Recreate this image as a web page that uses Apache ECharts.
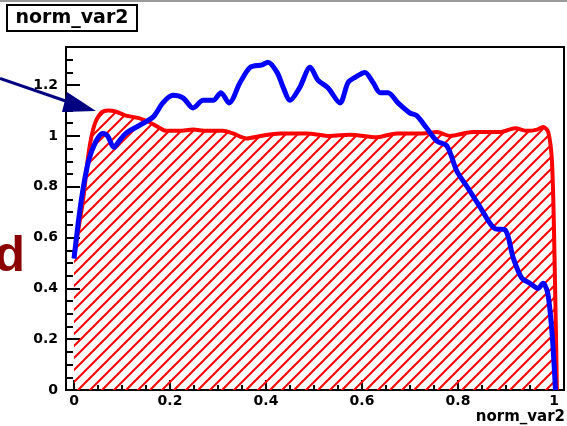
<!DOCTYPE html>
<html><head><meta charset="utf-8">
<script src="https://cdn.jsdelivr.net/npm/echarts@6/dist/echarts.min.js"></script>
<style>html,body{margin:0;padding:0;background:#fff}#c{width:567px;height:426px}</style>
</head><body><div id="c"></div>
<script>
// ---- data ----
const redX = [0, 0.008, 0.019, 0.031, 0.042, 0.056, 0.071, 0.088, 0.108, 0.135, 0.156, 0.175, 0.192, 0.219, 0.248, 0.275, 0.31, 0.331, 0.36, 0.388, 0.43, 0.485, 0.533, 0.575, 0.631, 0.673, 0.727, 0.756, 0.783, 0.831, 0.8875, 0.919, 0.944, 0.965, 0.977, 0.988, 0.996, 1.002, 1.006];
const redY = [0.52, 0.62, 0.75, 0.94, 1.04, 1.09, 1.10, 1.095, 1.08, 1.07, 1.055, 1.035, 1.02, 1.02, 1.025, 1.02, 1.02, 1.01, 0.99, 1.0, 1.01, 1.01, 1.0, 1.005, 0.995, 1.01, 1.01, 1.015, 1.0, 1.015, 1.015, 1.03, 1.02, 1.025, 1.035, 1.015, 0.89, 0.43, 0.0];
const blueX = [0, 0.015, 0.03, 0.046, 0.06, 0.07, 0.083, 0.094, 0.108, 0.135, 0.165, 0.185, 0.206, 0.227, 0.248, 0.269, 0.29, 0.306, 0.323, 0.346, 0.367, 0.392, 0.404, 0.423, 0.436, 0.45, 0.47, 0.492, 0.508, 0.529, 0.554, 0.571, 0.585, 0.606, 0.623, 0.638, 0.654, 0.675, 0.70, 0.714, 0.735, 0.756, 0.777, 0.798, 0.819, 0.846, 0.877, 0.898, 0.915, 0.933, 0.95, 0.967, 0.977, 0.987, 0.996, 1.003];
const blueY = [0.517, 0.745, 0.90, 0.98, 1.01, 1.0, 0.955, 0.98, 1.01, 1.04, 1.075, 1.13, 1.16, 1.15, 1.11, 1.14, 1.14, 1.17, 1.13, 1.21, 1.27, 1.28, 1.29, 1.25, 1.19, 1.14, 1.19, 1.27, 1.22, 1.19, 1.13, 1.21, 1.23, 1.25, 1.21, 1.17, 1.17, 1.13, 1.09, 1.08, 1.03, 0.98, 0.96, 0.86, 0.80, 0.72, 0.635, 0.63, 0.52, 0.44, 0.42, 0.40, 0.42, 0.38, 0.22, 0.0];
const xMajorTicks = [0, 0.2, 0.4, 0.6, 0.8, 1];
const xMinorTicks = [0.05, 0.1, 0.15, 0.25, 0.3, 0.35, 0.45, 0.5, 0.55, 0.65, 0.7, 0.75, 0.85, 0.9, 0.95];
const yMajorTicks = [0, 0.2, 0.4, 0.6, 0.8, 1, 1.2];
const yMinorTicks = [0.05, 0.1, 0.15, 0.25, 0.3, 0.35, 0.45, 0.5, 0.55, 0.65, 0.7, 0.75, 0.85, 0.9, 0.95, 1.05, 1.1, 1.15, 1.25, 1.3];
const titleText = 'norm_var2';
const xTitle = 'norm_var2';
const sideText = 'd';

// ---- drawing ----
const FONT = 'DejaVu Sans';
const S = 12;
const hatch = document.createElement('canvas');
hatch.width = S; hatch.height = S;
const g = hatch.getContext('2d');
g.strokeStyle = '#ff0000'; g.lineWidth = 2;
g.beginPath();
g.moveTo(0, S); g.lineTo(S, 0);
g.moveTo(-2, 2); g.lineTo(2, -2);
g.moveTo(S - 2, S + 2); g.lineTo(S + 2, S - 2);
g.stroke();

const XMIN = -0.0167, XMAX = 1.0208, YMIN = 0, YMAX = 1.35;
const gridBox = {left: 66, top: 47, right: 3, bottom: 36};
const tickStyle = {color: '#000', width: 2};
const plainGrid = () => Object.assign({show: false, containLabel: false, outerBoundsMode: 'none'}, gridBox);
// dummy axis whose range excludes 0, so the partner axis is never moved "on zero"
const dummyAxis = (gi) => ({type: 'value', gridIndex: gi, min: 1, max: 2, show: false});

const chart = echarts.init(document.getElementById('c'), null, {renderer: 'canvas'});
chart.setOption({
  animation: false,
  grid: [
    Object.assign({show: true, borderColor: '#000', borderWidth: 2, backgroundColor: 'transparent', containLabel: false, outerBoundsMode: 'none'}, gridBox),
    plainGrid(),
    plainGrid()
  ],
  xAxis: [
    {type: 'value', gridIndex: 0, min: XMIN, max: XMAX, position: 'bottom',
     splitLine: {show: false},
     axisLine: {onZero: false, lineStyle: {color: '#000', width: 2}},
     axisTick: {inside: true, length: 10, customValues: xMajorTicks, lineStyle: tickStyle},
     axisLabel: {customValues: xMajorTicks, fontFamily: FONT, fontWeight: 'bold', fontSize: 14, color: '#000', margin: 4}},
    dummyAxis(1),
    {type: 'value', gridIndex: 2, min: XMIN, max: XMAX, position: 'bottom',
     splitLine: {show: false}, axisLine: {show: false, onZero: false},
     axisTick: {inside: true, length: 5, customValues: xMinorTicks, lineStyle: tickStyle},
     axisLabel: {show: false}}
  ],
  yAxis: [
    {type: 'value', gridIndex: 0, min: YMIN, max: YMAX, position: 'left',
     splitLine: {show: false},
     axisLine: {onZero: false, lineStyle: {color: '#000', width: 2}},
     axisTick: {inside: true, length: 14, customValues: yMajorTicks, lineStyle: tickStyle},
     axisLabel: {customValues: yMajorTicks, fontFamily: FONT, fontWeight: 'bold', fontSize: 14, color: '#000', margin: 8}},
    {type: 'value', gridIndex: 1, min: YMIN, max: YMAX, position: 'left',
     splitLine: {show: false}, axisLine: {show: false, onZero: false},
     axisTick: {inside: true, length: 7, customValues: yMinorTicks, lineStyle: tickStyle},
     axisLabel: {show: false}},
    dummyAxis(2)
  ],
  series: [
    {type: 'line', xAxisIndex: 0, yAxisIndex: 0, z: 2,
     data: redX.map((x, i) => [x, redY[i]]),
     showSymbol: false, smooth: 0.3,
     lineStyle: {color: '#ff0000', width: 4},
     areaStyle: {color: {image: hatch, repeat: 'repeat'}, opacity: 1}},
    {type: 'line', xAxisIndex: 0, yAxisIndex: 0, z: 3,
     data: blueX.map((x, i) => [x, blueY[i]]),
     showSymbol: false, smooth: 0.3,
     lineStyle: {color: '#0000ff', width: 5}}
  ],
  graphic: [
    {type: 'rect', z: 10, shape: {x: 0, y: 0, width: 567, height: 2}, style: {fill: '#999'}},
    {type: 'rect', z: 10, shape: {x: 7, y: 5, width: 130, height: 26}, style: {fill: '#fff', stroke: '#000', lineWidth: 2}},
    {type: 'text', z: 11, x: 72, y: 18, style: {text: titleText, font: 'bold 19px "DejaVu Sans"', fill: '#000', align: 'center', verticalAlign: 'middle', textAlign: 'center', textVerticalAlign: 'middle'}},
    {type: 'text', z: 11, x: 565, y: 417, style: {text: xTitle, font: 'bold 15px "DejaVu Sans"', fill: '#000', align: 'right', verticalAlign: 'middle', textAlign: 'right', textVerticalAlign: 'middle'}},
    {type: 'text', z: 11, x: 25, y: 257, style: {text: sideText, font: 'bold 50px "Liberation Sans"', fill: '#8b0000', align: 'right', verticalAlign: 'middle', textAlign: 'right', textVerticalAlign: 'middle'}},
    {type: 'polyline', z: 12, shape: {points: [[0, 78.5], [70, 102.5]]}, style: {stroke: '#000080', lineWidth: 3, fill: null}},
    {type: 'polygon', z: 12, shape: {points: [[96, 111], [67, 92], [62, 112]]}, style: {fill: '#000080'}}
  ]
});
</script></body></html>
